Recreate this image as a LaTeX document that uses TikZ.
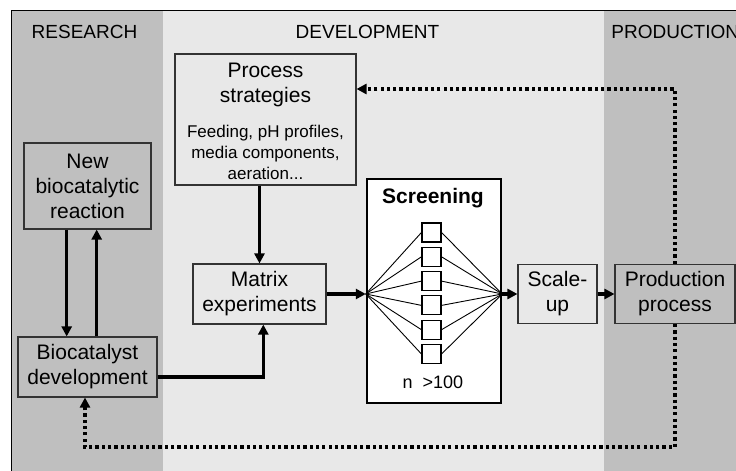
\documentclass[tikz,border=0pt]{standalone}
\usepackage{fontspec}
\setmainfont{Liberation Sans}
\usetikzlibrary{calc,arrows.meta}

\definecolor{resgray}{gray}{0.75}
\definecolor{devgray}{gray}{0.91}

\begin{document}
\begin{tikzpicture}[x=0.5pt,y=-0.5pt,
  box/.style={draw=black!80,line width=0.55pt,inner sep=0pt,align=center,font=\fontsize{10.5}{12.5}\selectfont},
  lite/.style={box,fill=devgray},
  dark/.style={box,fill=resgray},
  band/.style={inner sep=0pt,font=\fontsize{9.5}{11}\selectfont},
  cell/.style={draw,fill=white,line width=0.55pt,minimum size=9.5pt,inner sep=0pt},
  flow/.style={line width=1.55pt,-{Triangle[length=5pt,width=5pt]}},
  back/.style={line width=1.6pt,dash pattern=on 1.6pt off 1.55pt,-{Triangle[length=5pt,width=5pt]}}]

\useasboundingbox (0,0) rectangle (736,471);

% the three phases
\fill[resgray] (11.5,10.5) rectangle (163,471);
\fill[devgray] (163,10.5) rectangle (604,471);
\fill[resgray] (604,10.5) rectangle (736,471);
\draw[line width=0.75pt] (11.5,471) -- (11.5,10.5) -- (736,10.5);

\node[band] (research) at (84.5,32) {RESEARCH};
\node[band] (development) at (367.5,32) {DEVELOPMENT};
\node[band,anchor=west] (production) at (611,32) {PRODUCTION};

% boxes
\node[dark,minimum width=63.5pt,minimum height=43pt] (newr) at (87.5,186) {New\\biocatalytic\\reaction};
\node[dark,minimum width=69.5pt,minimum height=30pt] (bio) at (87.5,367) {Biocatalyst\\development};
\node[lite,minimum width=90.5pt,minimum height=65.5pt] (strat) at (265.5,119.5) {};
\node[font=\fontsize{10.5}{12.5}\selectfont,align=center] (strathead) at (265.5,85) {Process\\strategies};
\node[font=\fontsize{8.5}{10.5}\selectfont,align=center] (stratnote) at (265.5,152) {Feeding, pH profiles,\\media components,\\aeration...};
\node[lite,minimum width=66.5pt,minimum height=30pt] (matrix) at (259.5,294) {Matrix\\experiments};
\node[draw,fill=white,line width=1.2pt,minimum width=67pt,minimum height=112pt] (screen) at (434,291) {};
\node[font=\bfseries\fontsize{10.5}{12.5}\selectfont] (screentitle) at (433,198.5) {Screening};
\node[font=\fontsize{9}{11}\selectfont] (count) at (433,382.5) {n\ \ >100};
\node[lite,minimum width=39.5pt,minimum height=29.5pt] (scale) at (557.5,294) {Scale-\\up};
\node[dark,minimum width=60pt,minimum height=29.5pt] (prod) at (675,294) {Production\\process};

% screening fan
\coordinate (fanL) at (screen.west |- matrix.east);
\coordinate (fanR) at (screen.east |- matrix.east);
\foreach \i in {0,...,5}{
  \node[cell] (c\i) at (431.5,{232.5+24.3*\i}) {};
  \draw[line width=0.45pt] (fanL) -- (c\i.west);
  \draw[line width=0.45pt] (c\i.east) -- (fanR);
}

% flow
\draw[flow] ([xshift=-10.4pt]newr.south) -- ([xshift=-10.4pt]newr.south |- bio.north);
\draw[flow] ([xshift=4.6pt]newr.south |- bio.north) -- ([xshift=4.6pt]newr.south);
\draw[flow] (matrix.north |- strat.south) -- (matrix.north);
\draw[flow] ([yshift=-5pt]bio.east) -| ([xshift=1.9pt]matrix.south);
\draw[flow] (matrix.east) -- (fanL);
\draw[flow] (fanR) -- (scale.west);
\draw[flow] (scale.east) -- (prod.west);

% feedback
\draw[back] (prod.north) |- ([yshift=15.25pt]strat.east);
\coordinate (loop) at (85,447);
\draw[back] (prod.south) |- (loop) -- (loop |- bio.south);

\end{tikzpicture}
\end{document}
